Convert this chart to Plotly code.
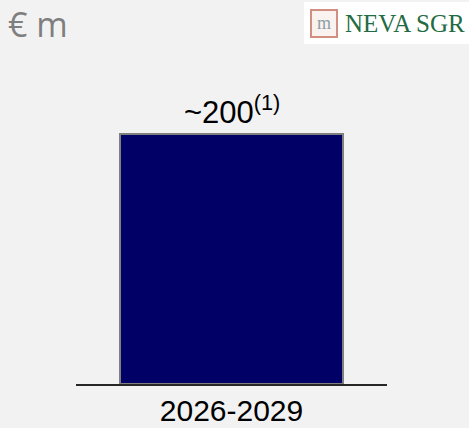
import plotly.graph_objects as go

# ---- data ----
categories = ["2026-2029"]
values = [200]
value_labels = ["~200<sup>(1)</sup>"]
unit_label = "€ m"
logo_text = "NEVA SGR"

W, H = 469, 428
L, R, T, B = 76, 82, 100, 44
PW, PH = W - L - R, H - T - B

def px(x):
    return (x - L) / PW

def py(y):
    return (H - B - y) / PH

fig = go.Figure()
fig.add_trace(go.Bar(
    x=categories, y=values, width=0.717,
    marker=dict(color="#000066", line=dict(color="#7f7f7f", width=2)),
    hoverinfo="skip",
))

for c, v, t in zip(categories, values, value_labels):
    fig.add_annotation(x=c, y=v, text=t, showarrow=False, yanchor="bottom",
                       yshift=2, font=dict(family="Arial, Liberation Sans", size=31, color="#000000"))

# unit label
fig.add_annotation(xref="paper", yref="paper", x=px(6), y=py(24), text=unit_label,
                   showarrow=False, xanchor="left", yanchor="middle",
                   font=dict(family="Open Sans", size=34, color="#7f7f7f"))

# logo
fig.add_shape(type="rect", xref="paper", yref="paper", x0=px(304), x1=px(472), y0=py(44), y1=py(2),
              fillcolor="#ffffff", line=dict(width=0), layer="below")
fig.add_shape(type="rect", xref="paper", yref="paper", x0=px(311), x1=px(337), y0=py(37), y1=py(10),
              fillcolor="#faf2ee", line=dict(color="#d08f80", width=2))
fig.add_annotation(xref="paper", yref="paper", x=px(324), y=py(23), text="m", showarrow=False,
                   xanchor="center", yanchor="middle",
                   font=dict(family="Liberation Serif", size=18, color="#8aa0a8"))
fig.add_annotation(xref="paper", yref="paper", x=px(343), y=py(23), text=logo_text, showarrow=False,
                   xanchor="left", yanchor="middle",
                   font=dict(family="Liberation Serif", size=25, color="#236b43"))

fig.update_layout(
    width=W, height=H,
    margin=dict(l=L, r=R, t=T, b=B, pad=0, autoexpand=False),
    paper_bgcolor="#f2f2f2", plot_bgcolor="#f2f2f2",
    showlegend=False,
    xaxis=dict(range=[-0.5, 0.5], showgrid=False, zeroline=False, showline=True,
               linecolor="#262626", linewidth=2, ticks="", automargin=False,
               ticklabelstandoff=-1,
               tickfont=dict(family="Arial, Liberation Sans", size=30, color="#000000")),
    yaxis=dict(range=[0, 200 * PH / 250], visible=False, showgrid=False, zeroline=False,
               automargin=False),
)

fig.write_html("out.html", config={"displayModeBar": False},
               post_script="document.body.style.margin='0';document.body.style.background='#f2f2f2';")
